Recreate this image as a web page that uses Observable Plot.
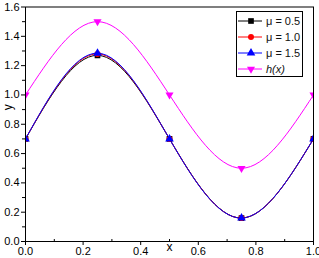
<!DOCTYPE html>
<html>
<head>
<meta charset="utf-8">
<script src="https://cdn.jsdelivr.net/npm/d3@7"></script>
<script src="https://cdn.jsdelivr.net/npm/@observablehq/plot@0.6"></script>
<style>
  html, body { margin: 0; padding: 0; background: white; overflow: hidden; }
  #wrap { position: relative; width: 319px; height: 258px; }
  #legend { position: absolute; left: 0; top: 0; pointer-events: none; }
</style>
</head>
<body>
<div id="wrap"></div>
<script>
// ---- data ----
const xs    = [0, 0.25, 0.5, 0.75, 1.0];
const mu05  = [0.70, 1.27, 0.70, 0.16, 0.70];
const mu10  = [0.70, 1.28, 0.70, 0.16, 0.70];
const mu15  = [0.70, 1.285, 0.70, 0.16, 0.70];
const hx    = [1.00, 1.50, 1.00, 0.50, 1.00];
const seriesNames = ["μ = 0.5", "μ = 1.0", "μ = 1.5", "h(x)"];
const seriesColors = ["#000000", "#ff0000", "#0000ff", "#ff00ff"];
const xTicks = [0, 0.2, 0.4, 0.6, 0.8, 1.0];
const xMinor = [0.1, 0.3, 0.5, 0.7, 0.9];
const yTicks = [0, 0.2, 0.4, 0.6, 0.8, 1.0, 1.2, 1.4, 1.6];
const yMinor = [0.1, 0.3, 0.5, 0.7, 0.9, 1.1, 1.3, 1.5];

const triDown = {
  draw(ctx, size) {
    const y = Math.sqrt(size / (Math.sqrt(3) * 3));
    ctx.moveTo(0, 2 * y);
    ctx.lineTo(-Math.sqrt(3) * y, -y);
    ctx.lineTo(Math.sqrt(3) * y, -y);
    ctx.closePath();
  }
};

const table = (ys) => xs.map((x, i) => ({x, y: ys[i]}));
const d05 = table(mu05), d10 = table(mu10), d15 = table(mu15), dh = table(hx);
const fmt = d3.format(".1f");

const chart = Plot.plot({
  width: 319,
  height: 258,
  marginLeft: 25,
  marginRight: 6,
  marginTop: 6.5,
  marginBottom: 17,
  style: {fontFamily: "'Liberation Sans', Arial, sans-serif", fontSize: "11px", color: "#000", background: "white"},
  x: {domain: [0, 1]},
  y: {domain: [0, 1.6]},
  marks: [
    Plot.line(d05, {x: "x", y: "y", stroke: seriesColors[0], strokeWidth: 1, curve: "natural", clip: "frame"}),
    Plot.line(d10, {x: "x", y: "y", stroke: seriesColors[1], strokeWidth: 1, curve: "natural", clip: "frame"}),
    Plot.line(d15, {x: "x", y: "y", stroke: seriesColors[2], strokeWidth: 1, curve: "natural", clip: "frame"}),
    Plot.line(dh,  {x: "x", y: "y", stroke: seriesColors[3], strokeWidth: 1, curve: "natural", clip: "frame"}),
    Plot.dot(d05, {x: "x", y: "y", symbol: "square", r: 3.2, fill: seriesColors[0], stroke: "none", clip: "frame"}),
    Plot.dot(d10, {x: "x", y: "y", symbol: "circle", r: 3, fill: seriesColors[1], stroke: "none", clip: "frame"}),
    Plot.dot(d15, {x: "x", y: "y", symbol: "triangle", r: 3.2, fill: seriesColors[2], stroke: "none", clip: "frame"}),
    Plot.dot(dh,  {x: "x", y: "y", symbol: triDown, r: 3, fill: seriesColors[3], stroke: "none", clip: "frame"}),
    Plot.axisX({ticks: xTicks, tickSize: 4, tickPadding: 2, tickFormat: fmt, label: null}),
    Plot.axisX({ticks: xMinor, tickSize: -2, tickFormat: () => "", label: null}),
    Plot.axisY({ticks: yTicks, tickSize: 4, tickPadding: 2, tickFormat: fmt, label: null}),
    Plot.axisY({ticks: yMinor, tickSize: 3, tickFormat: () => "", label: null}),
    Plot.frame({stroke: "#000", strokeWidth: 1}),
    Plot.text(["x"], {frameAnchor: "bottom", dy: 9, fontSize: 12}),
    Plot.text(["y"], {frameAnchor: "left", dx: -17, dy: -14, rotate: -90, fontSize: 12})
  ]
});
document.getElementById("wrap").appendChild(chart);

// ---- legend overlay ----
const lg = d3.select("#wrap").append("svg")
  .attr("id", "legend").attr("width", 319).attr("height", 258);
lg.append("rect").attr("x", 236.5).attr("y", 11.5).attr("width", 66).attr("height", 65)
  .attr("fill", "white").attr("stroke", "#000").attr("stroke-width", 1);
const syms = [d3.symbolSquare, d3.symbolCircle, d3.symbolTriangle, triDown];
const sizes = [32, 28, 32, 28];
seriesNames.forEach((name, i) => {
  const cy = 21 + i * 16;
  lg.append("line").attr("x1", 238).attr("x2", 262).attr("y1", cy).attr("y2", cy)
    .attr("stroke", seriesColors[i]).attr("stroke-width", 1);
  lg.append("path").attr("d", d3.symbol(syms[i], sizes[i])())
    .attr("transform", `translate(251,${cy})`).attr("fill", seriesColors[i]);
  lg.append("text").attr("x", 266).attr("y", cy).attr("dy", "0.35em")
    .attr("font-family", "'Liberation Sans', Arial, sans-serif").attr("font-size", 11)
    .attr("font-style", i === 3 ? "italic" : "normal")
    .attr("fill", "#111").text(name);
});
</script>
</body>
</html>
